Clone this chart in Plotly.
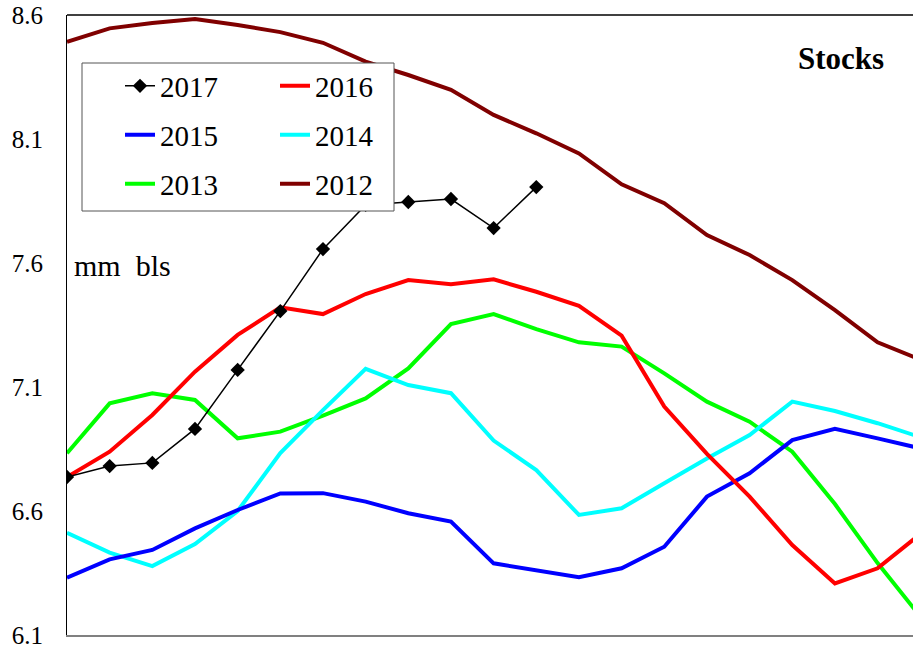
import plotly.graph_objects as go

weeks = list(range(21))

s2017 = [6.737, 6.781, 6.794, 6.931, 7.169, 7.406, 7.656, 7.834, 7.846, 7.858, 7.741, 7.906]
s2016 = [6.737, 6.839, 6.987, 7.162, 7.310, 7.421, 7.394, 7.475, 7.531, 7.514, 7.534, 7.484,
         7.427, 7.307, 7.021, 6.830, 6.658, 6.463, 6.308, 6.369, 6.507]
s2015 = [6.331, 6.405, 6.443, 6.530, 6.604, 6.671, 6.672, 6.638, 6.591, 6.557, 6.389, 6.359,
         6.333, 6.369, 6.456, 6.658, 6.752, 6.886, 6.931, 6.893, 6.853]
s2014 = [6.512, 6.432, 6.378, 6.467, 6.600, 6.834, 7.007, 7.173, 7.108, 7.075, 6.884, 6.765,
         6.584, 6.611, 6.712, 6.812, 6.906, 7.041, 7.003, 6.954, 6.898]
s2013 = [6.833, 7.034, 7.075, 7.048, 6.893, 6.920, 6.985, 7.054, 7.175, 7.354, 7.394, 7.333,
         7.280, 7.263, 7.155, 7.041, 6.960, 6.839, 6.628, 6.390, 6.175]
s2012 = [8.492, 8.546, 8.568, 8.584, 8.560, 8.531, 8.488, 8.412, 8.358, 8.298, 8.197, 8.123,
         8.042, 7.917, 7.841, 7.713, 7.632, 7.531, 7.410, 7.280, 7.211]

y_ticks = [6.1, 6.6, 7.1, 7.6, 8.1, 8.6]
y_tick_labels = ["6.1", "6.6", "7.1", "7.6", "8.1", "8.6"]

FONT = "Liberation Serif"

fig = go.Figure()

series = [
    ("2012", s2012, "#800000", "legend3"),
    ("2013", s2013, "#00FF00", "legend3"),
    ("2014", s2014, "#00FFFF", "legend2"),
    ("2015", s2015, "#0000FF", "legend2"),
    ("2016", s2016, "#FF0000", "legend"),
]
for name, vals, color, lg in series:
    fig.add_trace(go.Scatter(
        x=weeks[:len(vals)], y=vals, name=name, mode="lines",
        line=dict(color=color, width=4), legend=lg,
    ))

fig.add_trace(go.Scatter(
    x=weeks[:len(s2017)], y=s2017, name="2017", mode="lines+markers",
    line=dict(color="black", width=1.5),
    marker=dict(symbol="diamond", size=11, color="black"),
    legend="legend",
))

legend_common = dict(
    orientation="h", bgcolor="rgba(0,0,0,0)", borderwidth=0,
    font=dict(family=FONT, size=29, color="black"),
    entrywidth=110, entrywidthmode="pixels",
    xref="container", yref="container", xanchor="left", yanchor="middle",
    traceorder="reversed",
)
x_leg = 120 / 913

fig.update_layout(
    width=913, height=650,
    margin=dict(l=67, r=0, t=15, b=15, autoexpand=False),
    plot_bgcolor="white", paper_bgcolor="white",
    font=dict(family=FONT, color="black"),
    showlegend=True,
    legend=dict(**legend_common, x=x_leg, y=1 - 86 / 650),
    legend2=dict(**legend_common, x=x_leg, y=1 - 135 / 650),
    legend3=dict(**legend_common, x=x_leg, y=1 - 184 / 650),
    xaxis=dict(
        range=[0, 19.83], showgrid=False, zeroline=False,
        showticklabels=False, ticks="",
        showline=True, linecolor="#808080", linewidth=2, mirror=False,
    ),
    yaxis=dict(
        range=[6.1, 8.6], tickvals=y_ticks, ticktext=y_tick_labels,
        showgrid=False, zeroline=False, ticks="",
        showline=True, linecolor="black", linewidth=1,
        tickfont=dict(family=FONT, size=25, color="black"),
        ticklabelstandoff=18,
    ),
    shapes=[
        dict(type="line", xref="paper", yref="paper", x0=0, x1=1, y0=1, y1=1,
             line=dict(color="black", width=1.5)),
        dict(type="rect", xref="paper", yref="paper", layer="above",
             x0=(82 - 67) / 846, x1=(394 - 67) / 846,
             y0=(635 - 211) / 620, y1=(635 - 63) / 620,
             fillcolor="white", line=dict(color="#555555", width=1)),
    ],
    annotations=[
        dict(text="mm\u00a0\u00a0bls", xref="paper", yref="paper",
             x=(72 - 67) / 846, y=(635 - 265) / 620, xanchor="left", yanchor="middle",
             showarrow=False, font=dict(family=FONT, size=30, color="black")),
        dict(text="<b>Stocks</b>", xref="paper", yref="paper",
             x=(886 - 67) / 846, y=(635 - 59) / 620, xanchor="right", yanchor="middle",
             showarrow=False, font=dict(family=FONT, size=31, color="black")),
    ],
)

fig.write_html(
    "out.html",
    config={"displayModeBar": False},
    post_script="document.body.style.margin='0';document.body.style.overflow='hidden';",
)
